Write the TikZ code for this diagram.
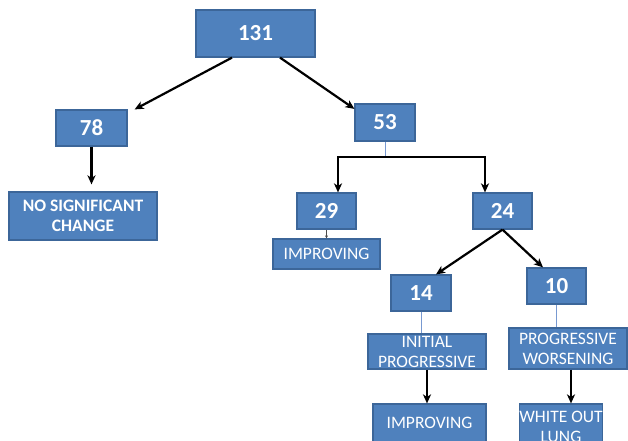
\documentclass[tikz,border=0pt]{standalone}
\usepackage{fontspec}
\setmainfont{Carlito}
\usetikzlibrary{arrows.meta}

\newlength{\du}
\setlength{\du}{1pt}
\definecolor{boxfill}{rgb}{0.310000, 0.506000, 0.741000}
\definecolor{boxline}{rgb}{0.235000, 0.400000, 0.600000}
\definecolor{joinblue}{rgb}{0.470000, 0.600000, 0.820000}
\tikzset{
  numbox/.style={draw=boxline, fill=boxfill, line width=1.2\du, text=white, inner sep=0pt,
    font=\fontsize{23}{27}\selectfont\bfseries},
  textbox/.style={draw=boxline, fill=boxfill, line width=1.2\du, text=white, inner sep=0pt,
    align=center, font=\fontsize{17.5}{20}\selectfont},
  flowarrow/.style={line width=2.2\du, black, -{Stealth[length=9pt,width=8pt,inset=2.5pt]}},
  joinline/.style={line width=1\du, joinblue},
  smallarrow/.style={line width=0.6\du, black!70, -{Stealth[length=3pt,width=3pt]}},
}

\begin{document}
\begin{tikzpicture}
\pgftransformxscale{1.000000}
\pgftransformyscale{-1.000000}
\useasboundingbox (0\du,0\du) rectangle (628\du,440\du);
\clip (0\du,0\du) rectangle (628\du,440\du);
\node[numbox, minimum width=119\du, minimum height=47\du] (n131) at (255.5\du,33.5\du){131};
\node[numbox, minimum width=71\du, minimum height=36\du] (n78) at (91.5\du,128\du){78};
\node[numbox, minimum width=60\du, minimum height=37\du] (n53) at (385\du,122.5\du){53};
\node[textbox, font=\fontsize{17.5}{20}\selectfont\bfseries, minimum width=148\du, minimum height=48\du] (nochange) at (83\du,216\du){NO SIGNIFICANT\\CHANGE};
\node[numbox, minimum width=59\du, minimum height=36\du] (n29) at (326.5\du,211\du){29};
\node[numbox, minimum width=59\du, minimum height=36\du] (n24) at (502.5\du,211\du){24};
\node[textbox, minimum width=107\du, minimum height=30\du] (improving1) at (326.5\du,254\du){IMPROVING};
\node[numbox, minimum width=60\du, minimum height=36\du] (n14) at (421\du,293\du){14};
\node[numbox, minimum width=59\du, minimum height=36\du] (n10) at (556.5\du,286\du){10};
\node[textbox, minimum width=118\du, minimum height=35\du] (initial) at (427\du,351.5\du){INITIAL\\PROGRESSIVE};
\node[textbox, minimum width=118\du, minimum height=41\du] (worsening) at (568\du,348.5\du){PROGRESSIVE\\WORSENING};
\node[textbox, minimum width=113\du, minimum height=38\du] (improving2) at (429.5\du,423\du){IMPROVING};
\node[textbox, minimum width=80\du, minimum height=46\du] (whiteout) at (561\du,427\du){WHITE OUT\\LUNG};
% connectors
\draw[flowarrow] ([xshift=-23.5\du]n131.south) -- ([xshift=7\du]n78.north east);
\draw[flowarrow] ([xshift=24.5\du]n131.south) -- (n53.156);
\draw[flowarrow, shorten >=7\du] (n78.south) -- (n78.south |- nochange.north);
\coordinate (split) at (385\du,157\du);
\draw[joinline] (n53.south) -- (split);
\draw[flowarrow] (split) -| ([xshift=11.5\du]n29.north);
\draw[flowarrow] (split) -| ([xshift=-17.5\du]n24.north);
\draw[smallarrow] (n29.south) -- (improving1.north);
\draw[flowarrow] (n24.south) -- ([xshift=15\du]n14.north);
\draw[flowarrow] (n24.south) -- ([xshift=-13.5\du]n10.north);
\draw[joinline] (n14.south) -- (n14.south |- initial.north);
\draw[joinline] (n10.south) -- (n10.south |- worsening.north);
\draw[flowarrow] (initial.south) -- (initial.south |- improving2.north);
\draw[flowarrow] ([xshift=3\du]worsening.south) -- ([xshift=3\du]worsening.south |- whiteout.north);
\end{tikzpicture}
\end{document}
